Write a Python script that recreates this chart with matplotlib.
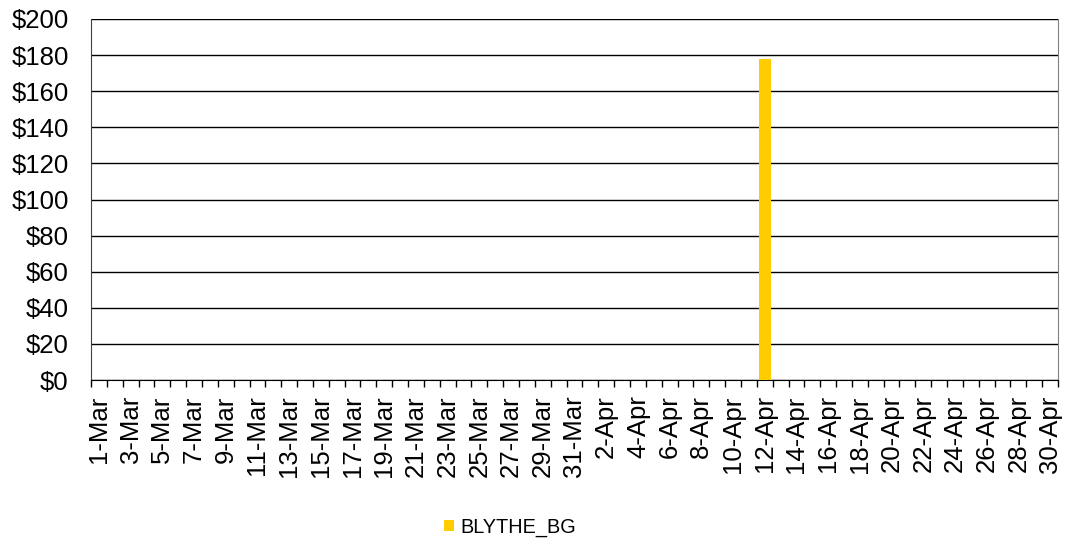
import matplotlib
matplotlib.use("Agg")
import matplotlib.pyplot as plt
import numpy as np
import datetime as dt

plt.rcParams['font.family'] = ['Liberation Sans', 'DejaVu Sans']

start = dt.date(2023, 3, 1)
dates = [start + dt.timedelta(days=i) for i in range(61)]
labels = [f"{d.day}-{d.strftime('%b')}" for d in dates]
values = [0.0] * 61
values[labels.index("12-Apr")] = 178.0
series_name = "BLYTHE_BG"
yticks = list(range(0, 201, 20))

fig = plt.figure(figsize=(10.7, 5.42), dpi=100)
ax = fig.add_axes([91/1070, 1 - 380/542, (1058-91)/1070, (380-19)/542])

x = np.arange(len(labels))
ax.bar(x, values, width=0.75, color="#FFCC00", label=series_name, zorder=3)

ax.set_xlim(-0.5, len(labels) - 0.5)
ax.set_ylim(0, 200)
ax.set_yticks(yticks)
ax.set_yticklabels([f"${v}" for v in yticks], fontsize=18.5)
ax.yaxis.grid(True, color="black", linewidth=1)
ax.set_axisbelow(True)
ax.tick_params(axis='y', length=0, pad=16)

ax.set_xticks(x[::2])
ax.set_xticklabels(labels[::2], rotation=90, fontsize=18.5)
ax.set_xticks(np.arange(-0.5, len(labels), 1), minor=True)
ax.tick_params(axis='x', which='major', length=0, pad=11)
ax.tick_params(axis='x', which='minor', length=5, width=1, color="black")

ax.spines['top'].set_visible(False)
ax.spines['left'].set_color("#404040")
ax.spines['right'].set_color("#808080")
ax.spines['bottom'].set_color("black")

leg = fig.legend(loc='center', bbox_to_anchor=(510/1070, 1 - 527/542), frameon=False,
                 fontsize=14.3, handlelength=0.5, handleheight=0.5, handletextpad=0.35)

fig.savefig("out.png", dpi=100)
